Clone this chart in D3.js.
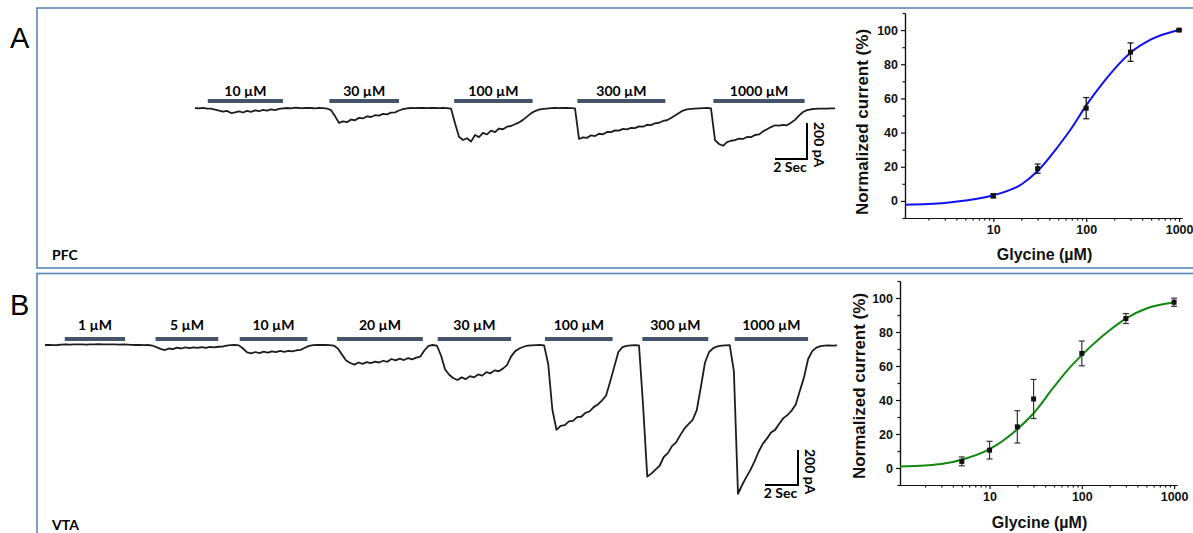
<!DOCTYPE html>
<html>
<head>
<meta charset="utf-8">
<title>Glycine currents PFC / VTA</title>
<style>
body { margin: 0; background: #fff; }
svg { display: block; background: #fff; }
.frame { fill: none; stroke: #5a86b8; stroke-width: 1.6px; }
.trace { fill: none; stroke: #1e1e1e; stroke-width: 1.8px; stroke-linejoin: round; filter: url(#soft); }
.drug { fill: #44546a; }
.lbl { font-family: Lato, "Open Sans", sans-serif; font-weight: bold; font-size: 14px; fill: #000; }
.letter { font-family: "Liberation Sans", Arial, sans-serif; font-size: 29px; fill: #000; }
.axis text { font-family: "Liberation Sans", Arial, sans-serif; font-weight: bold; font-size: 12.5px; fill: #111; }
.axis path, .axis line { stroke: #111; stroke-width: 1.2px; }
.axis-title { font-family: "Liberation Sans", Arial, sans-serif; font-weight: bold; fill: #111; }
.fit { fill: none; stroke-width: 2px; }
.scalebar { stroke: #000; stroke-width: 2px; }
</style>
<script src="https://cdn.jsdelivr.net/npm/d3@7"></script>
</head>
<body>
<svg width="1193" height="533">
  <defs><filter id="soft" x="-5%" y="-20%" width="110%" height="140%"><feGaussianBlur stdDeviation="0.45"/></filter></defs>
</svg>
<script>
// ---- data ----
var dt = 0.25; // seconds between trace samples

// PFC trace, current in pA (baseline = 0)
var traceA = [0, -2, 1, -3, -4, -9, -14, -20, -16, -28,
  -24, -19, -25, -16, -21, -13, -18, -10, -15, -8,
  -12, -5, -2, 0, -2, 2, 0, -1, 1, 0,
  -2, 1, -1, -3, -12, -45, -83, -74, -79, -64,
  -68, -55, -58, -46, -50, -40, -42, -33, -35, -26,
  -24, -14, -6, -2, 0, -1, 1, 0, -1, 1,
  0, -1, 0, -1, -3, -85, -160, -178, -168, -187,
  -150, -162, -138, -147, -126, -134, -114, -118, -104, -100,
  -90, -80, -66, -48, -30, -17, -9, -5, -3, -1,
  0, -1, 1, 0, -1, -2, -172, -163, -166, -152,
  -156, -143, -146, -133, -134, -124, -126, -116, -119, -110,
  -112, -102, -104, -94, -95, -85, -82, -72, -68, -56,
  -42, -28, -14, -8, -5, -3, -2, -1, 0, -2,
  -178, -200, -210, -190, -182, -178, -170, -172, -161, -162,
  -150, -147, -130, -118, -106, -96, -98, -94, -96, -82,
  -66, -42, -22, -12, -7, -5, -4, -3, -3, -2, -2];

// VTA trace, current in pA
var traceB = [0, 1, -1, 0, 2, 3, 2, 4, 3, 4,
  2, 4, 3, 5, 3, 4, 3, 4, 2, 3,
  2, 1, 0, 1, -1, 0, -3, -12, -22, -29,
  -20, -24, -15, -20, -14, -18, -13, -17, -12, -16,
  -11, -14, -10, -9, -4, -1, 1, -2, -20, -42,
  -48, -40, -46, -38, -44, -36, -41, -34, -39, -33,
  -36, -30, -28, -16, -5, -1, 0, 1, 0, -1,
  -3, -20, -55, -88, -103, -112, -100, -108, -98, -104,
  -95, -100, -90, -96, -80, -88, -78, -86, -75, -82,
  -72, -66, -30, -5, 0, -3, -60, -140, -170, -190,
  -200, -185, -195, -178, -185, -168, -175, -155, -162, -145,
  -150, -135, -115, -65, -35, -20, -10, -4, -2, -1,
  0, -2, -110, -370, -485, -462, -458, -436, -434, -412,
  -410, -388, -380, -355, -340, -318, -290, -210, -125, -40,
  -12, -5, -2, -1, -2, -350, -752, -735, -712, -690,
  -640, -618, -578, -556, -515, -478, -452, -428, -372, -240,
  -100, -40, -18, -8, -4, -2, -1, -150, -850, -800,
  -755, -715, -665, -610, -565, -535, -500, -485, -450, -418,
  -400, -375, -340, -262, -185, -80, -35, -15, -6, -4,
  -2, -3, -2];

// glycine applications (seconds from trace start)
var drugA = ["10 µM", "30 µM", "100 µM", "300 µM", "1000 µM"];
var drugA_on = [0.8, 8.4, 16.2, 23.9, 32.4];
var drugA_off = [5.5, 12.75, 21.1, 29.4, 38.1];
var drugB = ["1 µM", "5 µM", "10 µM", "20 µM", "30 µM", "100 µM", "300 µM", "1000 µM"];
var drugB_on = [1.2, 6.7, 11.8, 17.7, 23.8, 30.3, 36.2, 41.8];
var drugB_off = [4.85, 10.5, 15.9, 22.9, 28.25, 34.4, 40.2, 46.25];

// dose-response, normalized current (%)
var concA = [10, 30, 100, 300, 1000];
var meanA = [3, 18.9, 54.3, 87.1, 100];
var semA = [1.2, 2.7, 6.2, 5.4, 0.5];
var fitA_x = [1.12, 2, 3, 5, 10, 20, 30, 50, 70, 100, 150, 200, 300, 500, 1000];
var fitA_y = [-2.2, -1.8, -1.2, 0.2, 3.3, 9.6, 17.5, 32, 42.8, 55.9, 68.8, 77, 86.7, 94.5, 100];

var concB = [5, 10, 20, 30, 100, 300, 1000];
var meanB = [3.9, 10.5, 24.2, 40.6, 67.4, 87.9, 97.5];
var semB = [2.6, 5.2, 9.5, 11.5, 7.3, 2.9, 2.4];
var fitB_x = [1.07, 2, 3, 5, 10, 20, 30, 50, 70, 100, 200, 300, 500, 1000];
var fitB_y = [0.9, 1.5, 2.3, 4.9, 11.1, 22.8, 32.2, 47.8, 57.6, 66.4, 81, 87.9, 93.8, 97.3];

var yTicks = [0, 20, 40, 60, 80, 100];
var yMinor = [-10, 10, 30, 50, 70, 90, 110];
var xTicks = [10, 100, 1000];

var svg = d3.select("svg");

// frames
svg.append("rect").attr("class", "frame").attr("x", 37).attr("y", 8).attr("width", 1200).attr("height", 260);
svg.append("rect").attr("class", "frame").attr("x", 37).attr("y", 273.5).attr("width", 1200).attr("height", 300);

svg.append("text").attr("class", "letter").attr("x", 10).attr("y", 48).text("A");
svg.append("text").attr("class", "letter").attr("x", 10).attr("y", 315).text("B");
svg.append("text").attr("class", "lbl").attr("x", 52).attr("y", 260).text("PFC");
svg.append("text").attr("class", "lbl").attr("x", 52).attr("y", 530).text("VTA");

function drawTrace(o) {
  var x = d3.scaleLinear().domain([0, o.dur]).range(o.xRange),
      y = d3.scaleLinear().domain([0, -200]).range(o.yRange);
  var g = svg.append("g");

  g.selectAll(".drug")
    .data(o.labels)
    .enter().append("rect")
      .attr("class", "drug")
      .attr("x", function(d, i) { return x(o.on[i]); })
      .attr("y", o.barY - 2)
      .attr("width", function(d, i) { return x(o.off[i]) - x(o.on[i]); })
      .attr("height", 4);

  g.selectAll(".dl")
    .data(o.labels)
    .enter().append("text")
      .attr("class", "lbl")
      .attr("x", function(d, i) { return (x(o.on[i]) + x(o.off[i])) / 2; })
      .attr("y", o.barY - o.labelGap)
      .attr("text-anchor", "middle")
      .text(function(d) { return d; });

  var line = d3.line()
    .x(function(d, i) { return x(i * dt); })
    .y(function(d) { return y(d); });

  g.append("path").attr("class", "trace").attr("d", line(o.data));

  // scale bar: 200 pA, 2 s
  var sx = o.bar[0], sy = o.bar[1],
      h = y(-200) - y(0), w = x(2) - x(0);
  g.append("line").attr("class", "scalebar").attr("x1", sx).attr("x2", sx).attr("y1", sy + 1).attr("y2", sy - h);
  g.append("line").attr("class", "scalebar").attr("x1", sx + 1).attr("x2", sx - w).attr("y1", sy).attr("y2", sy);
  g.append("text").attr("class", "lbl").attr("x", sx - w / 2 - 1).attr("y", sy + 13).attr("text-anchor", "middle").text("2 Sec");
  g.append("text").attr("class", "lbl")
    .attr("transform", "translate(" + (sx + 7) + "," + (sy - h - 1) + ") rotate(90)")
    .text("200 pA");
}

drawTrace({data: traceA, dur: 40, xRange: [195, 835], yRange: [108, 144],
  labels: drugA, on: drugA_on, off: drugA_off, barY: 101, labelGap: 5, bar: [807, 159]});
drawTrace({data: traceB, dur: 48, xRange: [45, 837], yRange: [345, 380],
  labels: drugB, on: drugB_on, off: drugB_off, barY: 339, labelGap: 9, bar: [798, 485]});

function doseChart(o) {
  var x = d3.scaleLog().domain(o.xDomain).range(o.xRange),
      y = d3.scaleLinear().domain([-10, 110]).range(o.yRange);
  var g = svg.append("g");

  var minor = [];
  [1, 10, 100].forEach(function(dec) { for (var k = 2; k <= 9; k++) minor.push(dec * k); });

  g.append("g")
      .attr("class", "axis")
      .attr("transform", "translate(0," + o.yRange[0] + ")")
      .call(d3.axisBottom(x).tickValues(minor).tickFormat("").tickSizeInner(2.5).tickSizeOuter(0));
  g.append("g")
      .attr("class", "axis")
      .attr("transform", "translate(0," + o.yRange[0] + ")")
      .call(d3.axisBottom(x).tickValues(xTicks).tickFormat(d3.format("d")).tickSizeInner(4).tickSizeOuter(0).tickPadding(3));

  g.append("g")
      .attr("class", "axis")
      .attr("transform", "translate(" + o.xRange[0] + ",0)")
      .call(d3.axisLeft(y).tickValues(yMinor).tickFormat("").tickSizeInner(2.5).tickSizeOuter(0));
  g.append("g")
      .attr("class", "axis")
      .attr("transform", "translate(" + o.xRange[0] + ",0)")
      .call(d3.axisLeft(y).tickValues(yTicks).tickSizeInner(4).tickSizeOuter(0).tickPadding(3));

  var fit = d3.line()
    .curve(d3.curveMonotoneX)
    .x(function(d) { return x(d[0]); })
    .y(function(d) { return y(d[1]); });
  g.append("path")
      .attr("class", "fit")
      .style("stroke", o.color)
      .attr("d", fit(o.fx.map(function(v, i) { return [v, o.fy[i]]; })));

  var pts = o.conc.map(function(c, i) { return {c: c, m: o.mean[i], e: o.sem[i]}; });
  var pt = g.selectAll(".pt").data(pts).enter().append("g");
  pt.append("line")
      .attr("x1", function(d) { return x(d.c); }).attr("x2", function(d) { return x(d.c); })
      .attr("y1", function(d) { return y(d.m - d.e); }).attr("y2", function(d) { return y(d.m + d.e); })
      .style("stroke", o.errColor).style("stroke-width", 1.2);
  [-1, 1].forEach(function(s) {
    pt.append("line")
        .attr("x1", function(d) { return x(d.c) - 3; }).attr("x2", function(d) { return x(d.c) + 3; })
        .attr("y1", function(d) { return y(d.m + s * d.e); }).attr("y2", function(d) { return y(d.m + s * d.e); })
        .style("stroke", o.errColor).style("stroke-width", 1.2);
  });
  pt.append("rect")
      .attr("x", function(d) { return x(d.c) - 2.5; })
      .attr("y", function(d) { return y(d.m) - 2.5; })
      .attr("width", 5).attr("height", 5)
      .style("fill", "#111");

  g.append("text").attr("class", "axis-title")
      .attr("x", (o.xRange[0] + o.xRange[1]) / 2 + 1).attr("y", o.xTitleY)
      .attr("text-anchor", "middle").style("font-size", "16px")
      .text("Glycine (µM)");
  g.append("text").attr("class", "axis-title")
      .attr("transform", "translate(" + o.yTitleX + "," + o.yTitleC + ") rotate(-90)")
      .attr("text-anchor", "middle").style("font-size", "17px")
      .text("Normalized current (%)");
}

doseChart({xDomain: [1.12, 1075], xRange: [905, 1182], yRange: [218, 13],
  conc: concA, mean: meanA, sem: semA, fx: fitA_x, fy: fitA_y,
  color: "#1010f0", errColor: "#111", xTitleY: 260, yTitleX: 868, yTitleC: 122});
doseChart({xDomain: [1.07, 1075], xRange: [900, 1177], yRange: [485, 281],
  conc: concB, mean: meanB, sem: semB, fx: fitB_x, fy: fitB_y,
  color: "#118811", errColor: "#333", xTitleY: 528, yTitleX: 865, yTitleC: 386});
</script>
</body>
</html>
